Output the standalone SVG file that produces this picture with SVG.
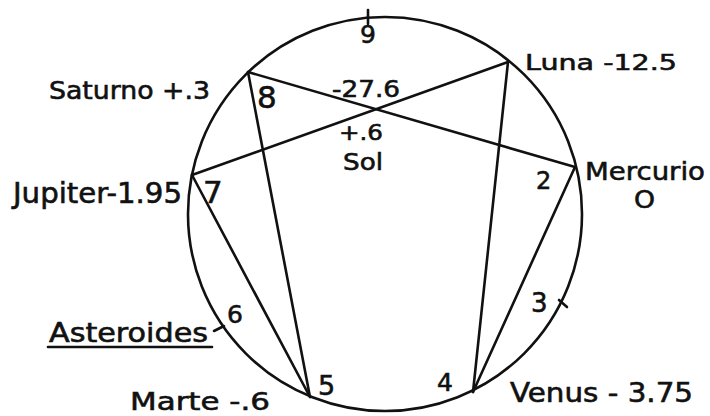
<svg xmlns="http://www.w3.org/2000/svg" width="710" height="416" viewBox="0 0 710 416">
<style>
text{font-family:"DejaVu Sans","Liberation Sans",sans-serif;fill:#111;stroke:#111;stroke-width:0.6;}
.ln{stroke:#111;stroke-width:2.6;fill:none;stroke-linecap:round;}
</style>
<rect width="710" height="416" fill="#fff"/>
<circle class="ln" cx="385" cy="214" r="197"/>
<g id="ticks">
<line class="ln" x1="368" y1="10" x2="368" y2="24"/>
<line class="ln" x1="214" y1="331" x2="224" y2="326"/>
<line class="ln" x1="559" y1="300" x2="567" y2="307"/>
</g>
<g id="connectors">
<line class="ln" x1="248" y1="72" x2="575" y2="167"/>
<line class="ln" x1="192" y1="175" x2="508" y2="62"/>
<line class="ln" x1="248" y1="72" x2="310" y2="397"/>
<line class="ln" x1="192" y1="175" x2="310" y2="397"/>
<line class="ln" x1="508" y1="62" x2="473" y2="392"/>
<line class="ln" x1="575" y1="167" x2="473" y2="392"/>
</g>
<g id="sol">
<text x="332" y="97" font-size="23" textLength="68" lengthAdjust="spacingAndGlyphs">-27.6</text>
<text x="339" y="140" font-size="22" textLength="44" lengthAdjust="spacingAndGlyphs">+.6</text>
<text x="343" y="170" font-size="23" textLength="40" lengthAdjust="spacingAndGlyphs">Sol</text>
</g>
<g id="n9"><text x="360" y="43" font-size="25">9</text></g>
<g id="saturno">
<text x="49" y="99" font-size="25" textLength="161" lengthAdjust="spacingAndGlyphs">Saturno +.3</text>
<text x="257" y="108" font-size="31">8</text>
</g>
<g id="luna">
<text x="525" y="70" font-size="22" textLength="152" lengthAdjust="spacingAndGlyphs">Luna -12.5</text>
</g>
<g id="mercurio">
<text x="585" y="180" font-size="25" textLength="120" lengthAdjust="spacingAndGlyphs">Mercurio</text>
<text x="634" y="208" font-size="25" textLength="21" lengthAdjust="spacingAndGlyphs">O</text>
<text x="536" y="189" font-size="24">2</text>
</g>
<g id="jupiter">
<text x="13" y="203" font-size="28" textLength="169" lengthAdjust="spacingAndGlyphs">Jupiter-1.95</text>
<text x="203" y="203" font-size="31">7</text>
</g>
<g id="asteroides">
<text x="49" y="342" font-size="26" textLength="159" lengthAdjust="spacingAndGlyphs">Asteroides</text>
<line class="ln" x1="48" y1="347" x2="212" y2="347"/>
<text x="227" y="323" font-size="25">6</text>
</g>
<g id="marte">
<text x="130" y="410" font-size="25" textLength="140" lengthAdjust="spacingAndGlyphs">Marte -.6</text>
<text x="318" y="395" font-size="27">5</text>
</g>
<g id="venus">
<text x="510" y="402" font-size="26" textLength="183" lengthAdjust="spacingAndGlyphs">Venus - 3.75</text>
<text x="437" y="391" font-size="25">4</text>
</g>
<g id="n3"><text x="531" y="312" font-size="26">3</text></g>
</svg>
